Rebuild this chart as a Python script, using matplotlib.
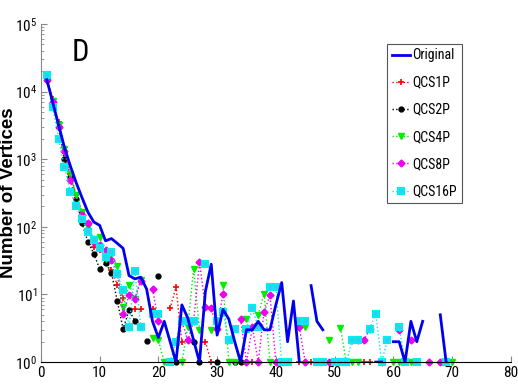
import matplotlib
matplotlib.use("Agg")
import matplotlib.pyplot as plt
from matplotlib import font_manager
import numpy as np

nan = np.nan

# x = 1..70 (degree), nan where the count is zero
degree = np.arange(1, 71)

original = [15000, 7000, 3200, 1500, 800, 450, 270, 165, 118, 105,
            62, 67, 57, 48, 19, 17, 18, 12, 4, 2.3,
            4, 2, 1, 7, 4.5, 2.1, 1, 11, 28, 2.5,
            6, 4.3, 2, 1, 3, 3, 4, 3, 3, 7,
            15, 2, 8, 1, nan, 13.5, 4, 3, nan, nan,
            nan, nan, nan, nan, nan, nan, 1, 1, nan, 2,
            2, 1, 4, 2, 4, nan, nan, 5, 1, nan]

qcs1p = [16000, 7800, 3500, 1500, 600, 300, 160, 90, 50, 45,
         32, 23, 14, 9, nan, 6, 6, nan, 6, nan,
         nan, 6.2, 13, 2, nan, 2, nan, 2, 1, nan,
         nan, nan, nan, nan, 1, 1, nan, nan, nan, nan,
         nan, nan, nan, 1, nan, 1, nan, nan, nan, nan,
         nan, nan, nan, nan, 1, 1, nan, nan, nan, nan,
         nan, nan, nan, nan, nan, nan, nan, nan, nan, nan]

qcs2p = [15000, 7000, 3000, 1000, 550, 260, 113, 60, 40, 24,
         29, 21, 8, 3.1, 5.8, 4.1, nan, 2.05, nan, 19,
         nan, nan, 1, nan, nan, 2, 1, nan, nan, 1,
         nan, nan, 1, 1, nan, nan, nan, nan, nan, nan,
         nan, nan, nan, nan, nan, nan, nan, nan, nan, nan,
         nan, nan, nan, nan, nan, nan, nan, nan, nan, nan,
         nan, nan, nan, nan, nan, nan, nan, nan, nan, nan]

qcs4p = [15000, 7200, 3200, 1400, 600, 300, 166, 100, 65, 71,
         33, 40, 26, 6.5, 14, 8.7, 16.6, nan, 2.3, 2.1,
         1, nan, nan, 1, 3.3, 24, 3, nan, 3, nan,
         13.7, 1, 1, nan, 4.3, nan, 5, 10.3, 1, nan,
         nan, nan, nan, nan, 3.3, nan, nan, nan, 2.1, nan,
         3.2, 1, 1, 1, nan, nan, nan, nan, nan, 1,
         1, nan, 1, nan, nan, nan, nan, nan, nan, 1]

qcs8p = [15000, 7000, 3000, 1300, 500, 210, 150, 112, 60, 53,
         45, 32, 20, 5.2, 9.7, 8.7, 16, nan, 12, 4.1,
         nan, nan, 2, 4, 2.1, 4, 30, 6.5, 6.2, 3.1,
         10.3, nan, nan, 4.3, 1, 3.3, 1, 5.5, 9.7, 1,
         nan, nan, nan, 3.3, 1, nan, nan, nan, 1, nan,
         nan, nan, 2.1, 2.1, 2.1, 3.1, nan, 1, nan, nan,
         3, nan, 2.1, nan, nan, 1, nan, 1, nan, nan]

qcs16p = [17700, 6000, 2000, 770, 330, 200, 130, 85, 63, 48,
          36, 43, 20, 11.5, 3.3, 22, 3.3, nan, 5.2, 5.2,
          nan, 1, 2, 4, 4, 4, nan, 28, nan, 4,
          5.5, 2.1, 3.1, nan, 3.1, 6.2, 3.3, nan, 13, 13,
          1, 1, nan, 4.1, 4.1, nan, 1, 1, nan, 1,
          1, 1, 2.1, 2.1, nan, 3.1, 5.2, 1, 2.1, nan,
          3.3, 1, nan, 1, nan, nan, nan, nan, 1, nan]

# narrow sans for ticks/legend, like the matlab original
names = {f.name for f in font_manager.fontManager.ttflist}
prefer = ["Liberation Sans Narrow", "Roboto Condensed", "Open Sans Condensed",
          "Noto Sans Condensed", "DejaVu Sans Condensed"]
cond = [n for n in prefer if n in names]
cond += sorted(n for n in names if ("Narrow" in n or "Condensed" in n) and n not in cond)
narrow = cond[:1] + ["Liberation Sans", "DejaVu Sans"]
stretch = "normal" if cond else "condensed"

fig = plt.figure(figsize=(5.18, 3.86), dpi=100)
ax = fig.add_axes([0.079, 0.062, 0.907, 0.876])

ax.plot(degree, original, "-", color="#0000ee", lw=2, label="Original", zorder=5)
ax.plot(degree, qcs1p, ":", color="red", lw=1, marker="+", ms=5, mew=1.2,
        label="QCS1P", clip_on=False)
ax.plot(degree, qcs2p, ":", color="black", lw=1, marker="o", ms=3.5,
        label="QCS2P", clip_on=False)
ax.plot(degree, qcs4p, ":", color="#00ee00", lw=1, marker="v", ms=4,
        label="QCS4P", clip_on=False)
ax.plot(degree, qcs8p, ":", color="#ee00ee", lw=1, marker="D", ms=3.5,
        label="QCS8P", clip_on=False)
ax.plot(degree, qcs16p, ":", color="#00eeee", lw=1, marker="s", ms=4.5,
        mfc="#33ccee", mec="#00eeee", mew=1.5, label="QCS16P", clip_on=False)

ax.set_yscale("log")
ax.set_xlim(0, 80)
ax.set_ylim(1, 1e5)
ax.set_xticks(np.arange(0, 81, 10))
ax.set_yticks([1, 10, 100, 1e3, 1e4, 1e5])
ax.tick_params(direction="in", which="both", length=4, color="#888888",
               labelsize=11, pad=2.8)
ax.tick_params(axis="x", pad=2.5)
ax.tick_params(which="minor", length=2)
for lab in ax.get_xticklabels() + ax.get_yticklabels():
    lab.set_family(narrow)
    lab.set_stretch(stretch)
ax.spines["top"].set_visible(False)
ax.spines["right"].set_visible(False)
ax.spines["left"].set_color("#888888")

# y label placed on the figure so it stays inside the left edge
fig.text(0.0, 0.5, "Number of Vertices", rotation=90, ha="left", va="center",
         fontsize=13.5, fontweight="bold", family="Liberation Sans")

ax.text(0.065, 0.915, "D", transform=ax.transAxes, fontsize=22,
        family=narrow, fontstretch=stretch, va="center")

leg = ax.legend(loc="upper left", bbox_to_anchor=(0.736, 0.942),
                prop={"family": narrow, "size": 10, "stretch": stretch},
                fancybox=False, framealpha=1, edgecolor="#555555",
                labelspacing=0.95, handlelength=1.3, handletextpad=0.2,
                borderpad=0.35, borderaxespad=0)
leg.get_frame().set_linewidth(0.8)

fig.savefig("out.png", dpi=100)
